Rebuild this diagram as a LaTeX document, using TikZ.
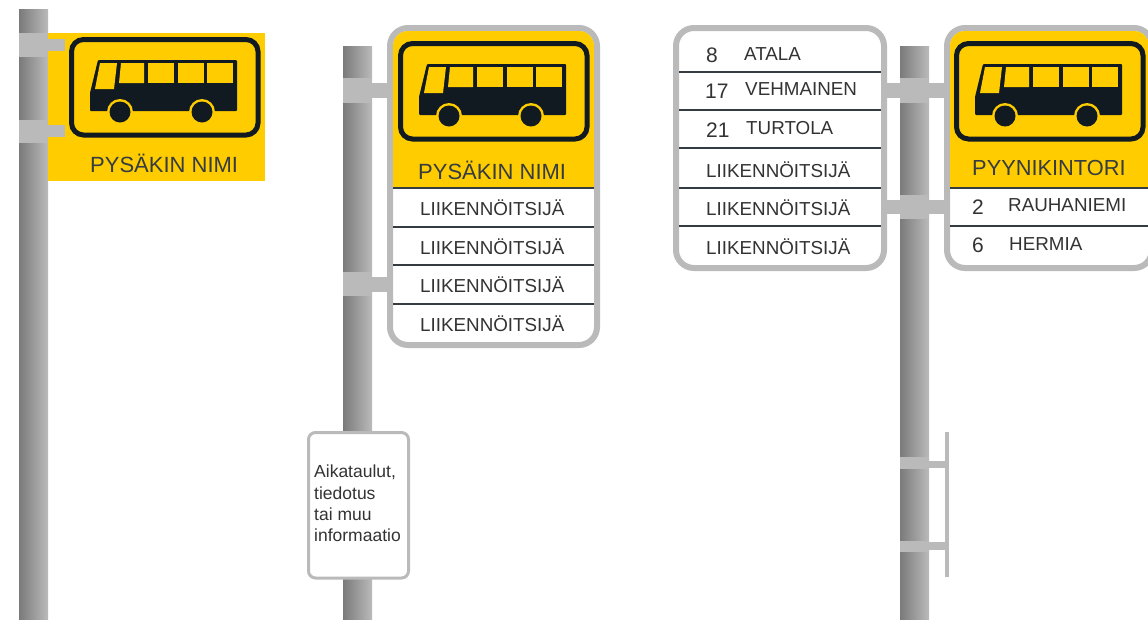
\documentclass[tikz,border=0pt]{standalone}
\usepackage{fontspec}
\setmainfont{Liberation Sans}
\definecolor{signyellow}{HTML}{FFCC00}
\definecolor{signdark}{HTML}{111A20}
\definecolor{framegray}{HTML}{BABABA}
\definecolor{inktext}{HTML}{333333}
\tikzset{
  x=1pt,y=-1pt,
  pole/.style={left color=black!52,right color=black!27,draw=none},
  bracket/.style={fill=framegray,draw=none},
  frame/.style={draw=framegray,line width=6pt,fill=white,rounded corners=18pt},
  rowline/.style={draw=signdark!85,line width=1.1pt},
  lab/.style={anchor=west,inner sep=0pt,text=inktext,font=\fontsize{18.8}{20}\selectfont},
  num/.style={anchor=west,inner sep=0pt,text=inktext,font=\fontsize{21}{22}\selectfont},
  title/.style={anchor=west,inner sep=0pt,text=signdark!85,font=\fontsize{22}{24}\selectfont},
  bustext/.style={anchor=west,inner sep=0pt,text=inktext,font=\fontsize{17.5}{20}\selectfont},
  infobox/.style={draw=framegray,line width=3pt,fill=white,rounded corners=7pt}
}
% #1,#2: top-left corner of the black border
\newcommand{\bussign}[2]{%
\begin{scope}[shift={(#1,#2)}]
  \draw[signdark,line width=5pt,fill=signyellow,rounded corners=12pt] (2.5,2.5) rectangle (189,98);
  \fill[signdark,rounded corners=1pt] (21,74) -- (21,56) -- (29,23) -- (168,23) -- (168,74) -- cycle;
  \fill[signyellow] (31,26) -- (48,26) -- (45,52) -- (26,52) -- cycle;
  \fill[signyellow] (52,26) -- (75,26) -- (75,46) -- (50,46) -- cycle;
  \fill[signyellow] (79,26) rectangle (105,46);
  \fill[signyellow] (109,26) rectangle (135,46);
  \fill[signyellow] (138,26) rectangle (164,46);
  \fill[signyellow] (51,75) circle (13);
  \fill[signyellow] (133,75) circle (13);
  \fill[signdark] (51,75) circle (10.5);
  \fill[signdark] (133,75) circle (10.5);
\end{scope}}
\begin{document}
\begin{tikzpicture}
\useasboundingbox (0,0) rectangle (1148,619);
\clip (0,0) rectangle (1148,619);
\fill[white] (0,0) rectangle (1148,619);
% left sign
\shade[pole] (19,9) rectangle (48,619);
\fill[signyellow] (48,33) rectangle (265,181);
\fill[bracket] (19,33) rectangle (48,57);
\fill[bracket] (48,39) rectangle (65,51);
\fill[bracket] (19,120) rectangle (48,143);
\fill[bracket] (48,125) rectangle (65,137);
\bussign{69}{37}
\node[title] (t1) at (90,163.5) {PYSÄKIN NIMI};
% middle sign
\shade[pole] (343,46) rectangle (372,619);
\fill[bracket] (343,78) rectangle (372,103);
\fill[bracket] (372,83) rectangle (390,98);
\fill[bracket] (343,272) rectangle (372,296);
\fill[bracket] (372,277) rectangle (390,292);
\draw[frame] (390,28) rectangle (597,345);
\begin{scope}
  \clip[rounded corners=15pt] (393,31) rectangle (594,342);
  \fill[signyellow] (393,31) rectangle (594,188);
\end{scope}
\bussign{398}{41}
\draw[rowline] (393,188) -- (594,188);
\draw[rowline] (393,227) -- (594,227);
\draw[rowline] (393,265) -- (594,265);
\draw[rowline] (393,304) -- (594,304);
\node[title] (t2) at (418,170) {PYSÄKIN NIMI};
\node[lab] (m1) at (420,208) {LIIKENNÖITSIJÄ};
\node[lab] (m2) at (420,247) {LIIKENNÖITSIJÄ};
\node[lab] (m3) at (420,285) {LIIKENNÖITSIJÄ};
\node[lab] (m4) at (420,324) {LIIKENNÖITSIJÄ};
\draw[infobox] (308.5,432.5) rectangle (408.5,578);
\node[bustext] (i1) at (314,472) {Aikataulut,};
\node[bustext] (i2) at (314,493) {tiedotus};
\node[bustext] (i3) at (314,514) {tai muu};
\node[bustext] (i4) at (314,535) {informaatio};
% right pair
\shade[pole] (900,46) rectangle (929,619);
\fill[bracket] (900,78) rectangle (929,103);
\fill[bracket] (884,83) rectangle (947,98);
\fill[bracket] (900,195) rectangle (929,219);
\fill[bracket] (884,200) rectangle (947,214);
\fill[bracket] (900,457) rectangle (929,469);
\fill[bracket] (929,461) rectangle (946,468);
\fill[bracket] (900,541) rectangle (929,552);
\fill[bracket] (929,542) rectangle (946,550);
\fill[bracket] (945,432) rectangle (949,577);
\draw[frame] (676,28) rectangle (884,268);
\draw[rowline] (679,72) -- (881,72);
\draw[rowline] (679,110) -- (881,110);
\draw[rowline] (679,148) -- (881,148);
\draw[rowline] (679,188) -- (881,188);
\draw[rowline] (679,226) -- (881,226);
\node[num] (n8) at (706,55) {8};
\node[lab] (a8) at (744,54) {ATALA};
\node[num] (n17) at (705,91) {17};
\node[lab] (a17) at (745,89.5) {VEHMAINEN};
\node[num] (n21) at (706,130) {21};
\node[lab] (a21) at (746,128.5) {TURTOLA};
\node[lab] (l1) at (706,169.5) {LIIKENNÖITSIJÄ};
\node[lab] (l2) at (706,208) {LIIKENNÖITSIJÄ};
\node[lab] (l3) at (706,246.5) {LIIKENNÖITSIJÄ};
\draw[frame] (947,28) rectangle (1152,268);
\begin{scope}
  \clip[rounded corners=15pt] (950,31) rectangle (1149,265);
  \fill[signyellow] (950,31) rectangle (1149,188);
\end{scope}
\bussign{954}{41}
\draw[rowline] (950,188) -- (1149,188);
\draw[rowline] (950,226) -- (1149,226);
\node[title,font=\fontsize{21.8}{24}\selectfont] (t3) at (972,168) {PYYNIKINTORI};
\node[num] (n2) at (972,207) {2};
\node[lab] (a2) at (1008,205) {RAUHANIEMI};
\node[num] (n6) at (972,245) {6};
\node[lab] (a6) at (1009,244) {HERMIA};
\end{tikzpicture}
\end{document}
